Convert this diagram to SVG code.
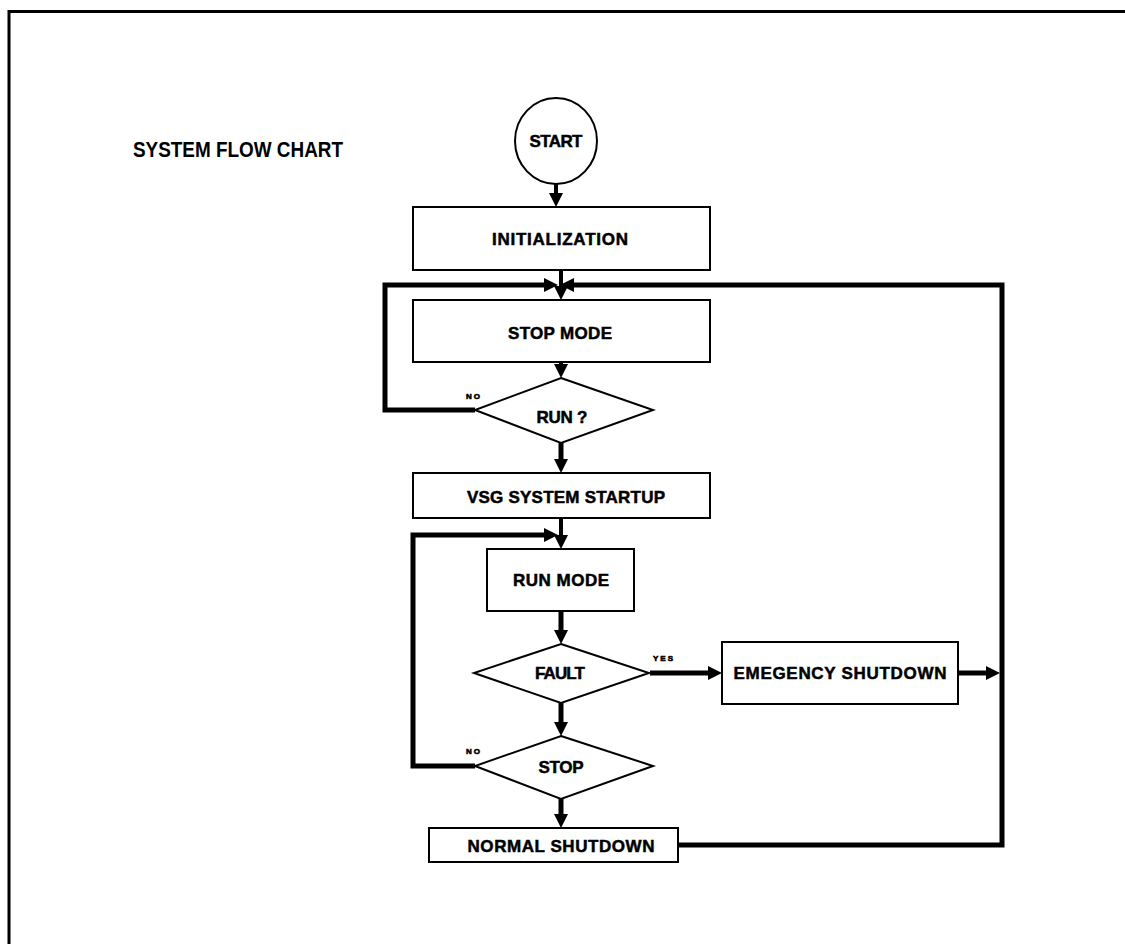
<svg xmlns="http://www.w3.org/2000/svg" width="1125" height="944" viewBox="0 0 1125 944">
<style>
.box{fill:#fff;stroke:#000;stroke-width:2}
.lbl{font-family:"Liberation Sans",Arial,sans-serif;font-weight:bold;font-size:17px;text-anchor:middle;fill:#000;stroke:#000;stroke-width:0.5}
.tiny{font-family:"Liberation Sans",Arial,sans-serif;font-weight:bold;font-size:8px;fill:#000;stroke:#000;stroke-width:0.6}
.title{font-family:"Liberation Sans",Arial,sans-serif;font-weight:bold;font-size:22px;fill:#000}
.c{fill:none;stroke:#000;stroke-width:5;stroke-linejoin:miter}
.t{fill:none;stroke:#000;stroke-width:4}
</style>
<defs>
<marker id="ah" markerUnits="userSpaceOnUse" markerWidth="14" markerHeight="14" refX="4" refY="7" orient="auto">
<path d="M0,0 L14,7 L0,14 z" fill="#000"/>
</marker>
</defs>
<rect width="1125" height="944" fill="#fff"/>
<path d="M9,944 V11.5 H1125" fill="none" stroke="#000" stroke-width="3"/>
<text class="title" x="133" y="157" textLength="210" lengthAdjust="spacingAndGlyphs">SYSTEM FLOW CHART</text>

<g id="connectors">
<path class="t" d="M556,184 V197" marker-end="url(#ah)"/>
<path class="t" d="M561,270 V290" marker-end="url(#ah)"/>
<path class="c" d="M475,410 H385 V285 H548" marker-end="url(#ah)"/>
<path class="c" d="M678,845 H1002 V285 H570" marker-end="url(#ah)"/>
<path class="t" d="M561,362 V368" marker-end="url(#ah)"/>
<path class="c" d="M561,443 V463" marker-end="url(#ah)"/>
<path class="t" d="M561,518 V539" marker-end="url(#ah)"/>
<path class="c" d="M475,766 H413 V535 H548" marker-end="url(#ah)"/>
<path class="c" d="M561,611 V634" marker-end="url(#ah)"/>
<path class="c" d="M650,673 H712" marker-end="url(#ah)"/>
<path class="c" d="M958,673 H990" marker-end="url(#ah)"/>
<path class="c" d="M561,703 V726" marker-end="url(#ah)"/>
<path class="c" d="M561,799 V818" marker-end="url(#ah)"/>
<text class="tiny" x="466" y="399" textLength="14">NO</text>
<text class="tiny" x="653" y="661" textLength="20">YES</text>
<text class="tiny" x="466" y="754" textLength="14">NO</text>
</g>

<g id="start">
<ellipse class="box" cx="556" cy="141" rx="41" ry="43"/>
<text class="lbl" x="556" y="147" font-size="15" textLength="53">START</text>
</g>
<g id="init">
<rect class="box" x="413" y="207" width="297" height="63"/>
<text class="lbl" x="560" y="245" textLength="136">INITIALIZATION</text>
</g>
<g id="stopmode">
<rect class="box" x="413" y="300" width="297" height="62"/>
<text class="lbl" x="560" y="338.5" textLength="104">STOP MODE</text>
</g>
<g id="run">
<polygon class="box" points="561,378 653,410 561,443 475,410"/>
<text class="lbl" x="562" y="423" textLength="51">RUN ?</text>
</g>
<g id="vsg">
<rect class="box" x="413" y="473" width="297" height="45"/>
<text class="lbl" x="566" y="503" textLength="198">VSG SYSTEM STARTUP</text>
</g>
<g id="runmode">
<rect class="box" x="487" y="549" width="147" height="62"/>
<text class="lbl" x="561" y="586" textLength="96">RUN MODE</text>
</g>
<g id="fault">
<polygon class="box" points="561,644 649,673 561,703 474,673"/>
<text class="lbl" x="560" y="679" textLength="50">FAULT</text>
</g>
<g id="emergency">
<rect class="box" x="722" y="642" width="236" height="62"/>
<text class="lbl" x="840" y="679" textLength="213">EMEGENCY SHUTDOWN</text>
</g>
<g id="stop">
<polygon class="box" points="561,736 653,766 561,799 475,766"/>
<text class="lbl" x="561" y="773" textLength="45">STOP</text>
</g>
<g id="normal">
<rect class="box" x="429" y="828" width="249" height="34"/>
<text class="lbl" x="561" y="852" textLength="187">NORMAL SHUTDOWN</text>
</g>
</svg>
